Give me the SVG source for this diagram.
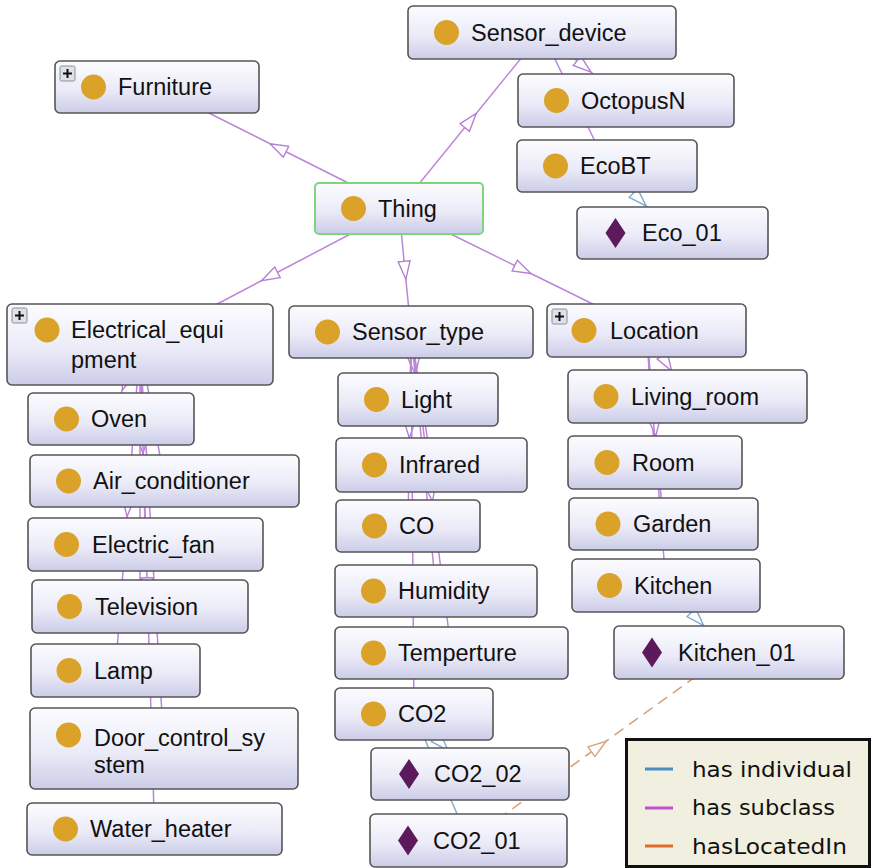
<svg xmlns="http://www.w3.org/2000/svg" width="873" height="868" viewBox="0 0 873 868">
  <defs>
    <linearGradient id="nodeFill" x1="0" y1="0" x2="0" y2="1">
      <stop offset="0" stop-color="#fcfcff"/>
      <stop offset="0.55" stop-color="#ebebf8"/>
      <stop offset="1" stop-color="#cccce8"/>
    </linearGradient>
    <marker id="triSub" viewBox="0 0 20 14" refX="10" refY="7" markerWidth="20" markerHeight="14" markerUnits="userSpaceOnUse" orient="auto">
      <path d="M1,1 L19,7 L1,13 Z" fill="#fff" stroke="#b67fd6" stroke-width="1.4"/>
    </marker>
    <marker id="triInd" viewBox="0 0 20 14" refX="10" refY="7" markerWidth="20" markerHeight="14" markerUnits="userSpaceOnUse" orient="auto">
      <path d="M1,1 L19,7 L1,13 Z" fill="#fff" stroke="#7fa9cc" stroke-width="1.4"/>
    </marker>
    <marker id="triLoc" viewBox="0 0 20 14" refX="10" refY="7" markerWidth="20" markerHeight="14" markerUnits="userSpaceOnUse" orient="auto">
      <path d="M1,1 L19,7 L1,13 Z" fill="#fff" stroke="#d9a27a" stroke-width="1.4"/>
    </marker>
  </defs>
  <style>
    .box { fill: url(#nodeFill); stroke: #555; stroke-width: 1.6; }
    .root { stroke: #7fd47f; stroke-width: 2; }
    .cls { fill: #dba22a; }
    .ind { fill: #5c1a5c; }
    .lbl { font-family: "Liberation Sans", Arial, sans-serif; font-size: 23.5px; fill: #111; }
    .sub { fill: none; stroke: #bb86da; stroke-width: 1.5; marker-mid: url(#triSub); }
    .has { fill: none; stroke: #86afcf; stroke-width: 1.5; marker-mid: url(#triInd); }
    .loc { fill: none; stroke: #d9a27a; stroke-width: 1.6; stroke-dasharray: 11 7; marker-mid: url(#triLoc); }
    .plus rect { fill: #dde1e8; stroke: #8a909a; stroke-width: 1; }
    .plus path { stroke: #111; stroke-width: 2; }
    .legtxt { font-family: "DejaVu Sans", "Noto Sans", sans-serif; font-size: 22px; fill: #111; }
  </style>

  <!-- connectors: centre to centre, arrowhead at the midpoint -->
  <g id="connectors">
    <path class="sub" d="M399,208.5 L278,147.75 L157,87"/>
    <path class="sub" d="M399,208.5 L470.5,120.5 L542,32.5"/>
    <path class="sub" d="M399,208.5 L269.5,276.5 L140,344.5"/>
    <path class="sub" d="M399,208.5 L405,270.25 L411,332"/>
    <path class="sub" d="M399,208.5 L522.75,269.5 L646.5,330.5"/>
    <path class="sub" d="M542,32.5 L584,66.5 L626,100.5"/>
    <path class="sub" d="M542,32.5 L574.5,99.25 L607,166"/>
    <path class="sub" d="M140,344.5 L125.5,381.75 L111,419"/>
    <path class="sub" d="M140,344.5 L152.25,412.75 L164.5,481"/>
    <path class="sub" d="M140,344.5 L142.75,444.5 L145.5,544.5"/>
    <path class="sub" d="M140,344.5 L140,475.5 L140,606.5"/>
    <path class="sub" d="M140,344.5 L127.75,507.5 L115.5,670.5"/>
    <path class="sub" d="M140,344.5 L152,546.5 L164,748.5"/>
    <path class="sub" d="M140,344.5 L147.25,586.75 L154.5,829"/>
    <path class="sub" d="M411,332 L414.5,365.75 L418,399.5"/>
    <path class="sub" d="M411,332 L421.25,398.5 L431.5,465"/>
    <path class="sub" d="M411,332 L409.5,429 L408,526"/>
    <path class="sub" d="M411,332 L423.5,461.5 L436,591"/>
    <path class="sub" d="M411,332 L431.25,492.5 L451.5,653"/>
    <path class="sub" d="M411,332 L412.5,523 L414,714"/>
    <path class="sub" d="M646.5,330.5 L667,363.5 L687.5,396.5"/>
    <path class="sub" d="M646.5,330.5 L650.75,396.5 L655,462.5"/>
    <path class="sub" d="M646.5,330.5 L655,427.25 L663.5,524"/>
    <path class="sub" d="M646.5,330.5 L656.25,458 L666,585.5"/>
    <path class="has" d="M607,166 L639.75,199.5 L672.5,233"/>
    <path class="has" d="M414,714 L442,744 L470,774"/>
    <path class="has" d="M414,714 L441.25,777.25 L468.5,840.5"/>
    <path class="has" d="M666,585.5 L697.5,619 L729,652.5"/>
    <path class="loc" d="M468.5,840.5 L598.75,746.5 L729,652.5"/>
  </g>

  <!-- classes -->
  <g id="Sensor_device">
    <rect class="box" x="408" y="6" width="268" height="53" rx="5"/>
    <circle class="cls" cx="446.5" cy="32.5" r="12.5"/>
    <text class="lbl" x="471" y="40.5">Sensor_device</text>
  </g>
  <g id="Furniture">
    <rect class="box" x="55" y="61" width="204" height="52" rx="5"/>
    <g class="plus"><rect x="60" y="66" width="15" height="15" rx="1.5"/><path d="M63,73.5 H72 M67.5,69 V78"/></g>
    <circle class="cls" cx="93.5" cy="87" r="12.5"/>
    <text class="lbl" x="118" y="95">Furniture</text>
  </g>
  <g id="Thing">
    <rect class="box root" x="315" y="183" width="168" height="51" rx="4"/>
    <circle class="cls" cx="353.5" cy="208.5" r="12.5"/>
    <text class="lbl" x="378" y="216.5">Thing</text>
  </g>
  <g id="OctopusN">
    <rect class="box" x="518" y="74" width="216" height="53" rx="5"/>
    <circle class="cls" cx="556.5" cy="100.5" r="12.5"/>
    <text class="lbl" x="581" y="108.5">OctopusN</text>
  </g>
  <g id="EcoBT">
    <rect class="box" x="517" y="140" width="180" height="52" rx="5"/>
    <circle class="cls" cx="555.5" cy="166" r="12.5"/>
    <text class="lbl" x="580" y="174">EcoBT</text>
  </g>
  <g id="Eco_01">
    <rect class="box" x="577" y="207" width="191" height="52" rx="5"/>
    <path class="ind" d="M615.5,218 L625.5,233 L615.5,248 L605.5,233 Z"/>
    <text class="lbl" x="642" y="241">Eco_01</text>
  </g>

  <g id="Electrical_equipment">
    <rect class="box" x="7" y="304" width="266" height="81" rx="5"/>
    <g class="plus"><rect x="12" y="308" width="15" height="15" rx="1.5"/><path d="M15,315.5 H24 M19.5,311 V320"/></g>
    <circle class="cls" cx="47" cy="330" r="12.5"/>
    <text class="lbl" x="71" y="338">Electrical_equi</text>
    <text class="lbl" x="71" y="368">pment</text>
  </g>
  <g id="Oven">
    <rect class="box" x="28" y="393" width="166" height="52" rx="5"/>
    <circle class="cls" cx="66.5" cy="419" r="12.5"/>
    <text class="lbl" x="91" y="427">Oven</text>
  </g>
  <g id="Air_conditioner">
    <rect class="box" x="30" y="455" width="269" height="52" rx="5"/>
    <circle class="cls" cx="68.5" cy="481" r="12.5"/>
    <text class="lbl" x="93" y="489">Air_conditioner</text>
  </g>
  <g id="Electric_fan">
    <rect class="box" x="28" y="518" width="235" height="53" rx="5"/>
    <circle class="cls" cx="66.5" cy="544.5" r="12.5"/>
    <text class="lbl" x="92" y="552.5">Electric_fan</text>
  </g>
  <g id="Television">
    <rect class="box" x="32" y="580" width="216" height="53" rx="5"/>
    <circle class="cls" cx="69.5" cy="606.5" r="12.5"/>
    <text class="lbl" x="95" y="614.5">Television</text>
  </g>
  <g id="Lamp">
    <rect class="box" x="31" y="644" width="169" height="53" rx="5"/>
    <circle class="cls" cx="69" cy="670.5" r="12.5"/>
    <text class="lbl" x="94" y="678.5">Lamp</text>
  </g>
  <g id="Door_control_system">
    <rect class="box" x="30" y="708" width="268" height="81" rx="5"/>
    <circle class="cls" cx="68.5" cy="735" r="12.5"/>
    <text class="lbl" x="94" y="746">Door_control_sy</text>
    <text class="lbl" x="94" y="773">stem</text>
  </g>
  <g id="Water_heater">
    <rect class="box" x="27" y="803" width="255" height="52" rx="5"/>
    <circle class="cls" cx="65.5" cy="829" r="12.5"/>
    <text class="lbl" x="90" y="837">Water_heater</text>
  </g>

  <g id="Sensor_type">
    <rect class="box" x="289" y="306" width="244" height="52" rx="5"/>
    <circle class="cls" cx="327.5" cy="332" r="12.5"/>
    <text class="lbl" x="352" y="340">Sensor_type</text>
  </g>
  <g id="Light">
    <rect class="box" x="338" y="373" width="160" height="53" rx="5"/>
    <circle class="cls" cx="376.5" cy="399.5" r="12.5"/>
    <text class="lbl" x="401" y="407.5">Light</text>
  </g>
  <g id="Infrared">
    <rect class="box" x="336" y="438" width="191" height="54" rx="5"/>
    <circle class="cls" cx="374.5" cy="465" r="12.5"/>
    <text class="lbl" x="399" y="473">Infrared</text>
  </g>
  <g id="CO">
    <rect class="box" x="336" y="500" width="144" height="52" rx="5"/>
    <circle class="cls" cx="374.5" cy="526" r="12.5"/>
    <text class="lbl" x="399" y="534">CO</text>
  </g>
  <g id="Humidity">
    <rect class="box" x="335" y="565" width="202" height="52" rx="5"/>
    <circle class="cls" cx="373.5" cy="591" r="12.5"/>
    <text class="lbl" x="398" y="599">Humidity</text>
  </g>
  <g id="Temperture">
    <rect class="box" x="335" y="627" width="233" height="52" rx="5"/>
    <circle class="cls" cx="373.5" cy="653" r="12.5"/>
    <text class="lbl" x="398" y="661">Temperture</text>
  </g>
  <g id="CO2">
    <rect class="box" x="335" y="688" width="158" height="52" rx="5"/>
    <circle class="cls" cx="373.5" cy="714" r="12.5"/>
    <text class="lbl" x="398" y="722">CO2</text>
  </g>
  <g id="CO2_02">
    <rect class="box" x="371" y="748" width="198" height="52" rx="5"/>
    <path class="ind" d="M409,759 L419,774 L409,789 L399,774 Z"/>
    <text class="lbl" x="434" y="782">CO2_02</text>
  </g>
  <g id="CO2_01">
    <rect class="box" x="370" y="814" width="197" height="53" rx="5"/>
    <path class="ind" d="M408,825.5 L418,840.5 L408,855.5 L398,840.5 Z"/>
    <text class="lbl" x="433" y="848.5">CO2_01</text>
  </g>

  <g id="Location">
    <rect class="box" x="547" y="304" width="199" height="53" rx="5"/>
    <g class="plus"><rect x="552" y="309" width="15" height="15" rx="1.5"/><path d="M555,316.5 H564 M559.5,312 V321"/></g>
    <circle class="cls" cx="584" cy="330.5" r="12.5"/>
    <text class="lbl" x="610" y="338.5">Location</text>
  </g>
  <g id="Living_room">
    <rect class="box" x="568" y="370" width="239" height="53" rx="5"/>
    <circle class="cls" cx="606" cy="396.5" r="12.5"/>
    <text class="lbl" x="631" y="404.5">Living_room</text>
  </g>
  <g id="Room">
    <rect class="box" x="568" y="436" width="174" height="53" rx="5"/>
    <circle class="cls" cx="607" cy="462.5" r="12.5"/>
    <text class="lbl" x="632" y="470.5">Room</text>
  </g>
  <g id="Garden">
    <rect class="box" x="569" y="498" width="189" height="52" rx="5"/>
    <circle class="cls" cx="608" cy="524" r="12.5"/>
    <text class="lbl" x="633" y="532">Garden</text>
  </g>
  <g id="Kitchen">
    <rect class="box" x="572" y="559" width="188" height="53" rx="5"/>
    <circle class="cls" cx="609.5" cy="585.5" r="12.5"/>
    <text class="lbl" x="634" y="593.5">Kitchen</text>
  </g>
  <g id="Kitchen_01">
    <rect class="box" x="614" y="626" width="230" height="53" rx="5"/>
    <path class="ind" d="M652,637.5 L662,652.5 L652,667.5 L642,652.5 Z"/>
    <text class="lbl" x="678" y="660.5">Kitchen_01</text>
  </g>

  <!-- legend -->
  <g id="legend">
    <rect x="626.5" y="739.5" width="243" height="127" fill="#f1efdf" stroke="#111" stroke-width="3"/>
    <line x1="645" y1="769" x2="673" y2="769" stroke="#4a8cc2" stroke-width="3"/>
    <line x1="645" y1="808" x2="673" y2="808" stroke="#c050d0" stroke-width="3"/>
    <line x1="645" y1="846" x2="673" y2="846" stroke="#e06a2a" stroke-width="3"/>
    <text class="legtxt" x="692" y="777" textLength="160" lengthAdjust="spacingAndGlyphs">has individual</text>
    <text class="legtxt" x="692" y="815" textLength="143" lengthAdjust="spacingAndGlyphs">has subclass</text>
    <text class="legtxt" x="692" y="854" textLength="155" lengthAdjust="spacingAndGlyphs">hasLocatedIn</text>
  </g>
</svg>
